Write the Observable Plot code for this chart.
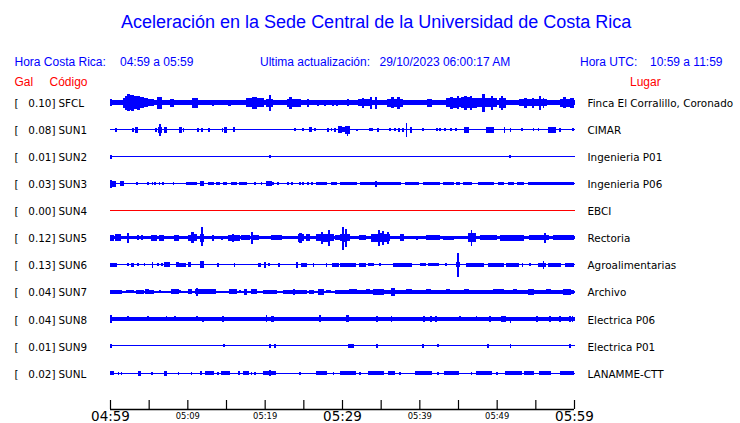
<!DOCTYPE html>
<html><head><meta charset="utf-8">
<script src="https://cdn.jsdelivr.net/npm/d3@7"></script>
<script src="https://cdn.jsdelivr.net/npm/@observablehq/plot@0.6"></script>
<style>
body{margin:0;background:#fff;}
#wrap{position:relative;width:740px;height:423px;overflow:hidden;font-family:"Liberation Sans",Arial,sans-serif;background:#fff;}
.t{position:absolute;white-space:pre;line-height:1;z-index:2;}
.b{color:#0000ff;font-size:12px;}
.r{color:#ff0000;font-size:12px;}
#title{color:#0000ff;font-size:18px;left:121px;top:13.3px;}
#chart{position:absolute;left:0;top:0;z-index:1;}
</style></head><body>
<div id="wrap">
<div id="chart"></div>
<div class="t" id="title">Aceleración en la Sede Central de la Universidad de Costa Rica</div>
<div class="t b" style="left:14.5px;top:55.5px">Hora Costa Rica:</div>
<div class="t b" style="left:120px;top:55.5px">04:59 a 05:59</div>
<div class="t b" style="left:260px;top:55.5px">Ultima actualización:</div>
<div class="t b" style="left:379.5px;top:55.5px">29/10/2023 06:00:17 AM</div>
<div class="t b" style="left:580px;top:55.5px">Hora UTC:</div>
<div class="t b" style="left:650px;top:55.5px">10:59 a 11:59</div>
<div class="t r" style="left:14.5px;top:75.6px">Gal</div>
<div class="t r" style="left:49.5px;top:75.6px">Código</div>
<div class="t r" style="left:630px;top:75.6px">Lugar</div>
</div>
<script>
const codes = ["SFCL","SUN1","SUN2","SUN3","SUN4","SUN5","SUN6","SUN7","SUN8","SUN9","SUNL"];
const gal = [0.10,0.08,0.01,0.03,0.00,0.12,0.13,0.04,0.04,0.01,0.02];
const lugares = ["Finca El Corralillo, Coronado","CIMAR","Ingenieria P01","Ingenieria P06","EBCI","Rectoria","Agroalimentarias","Archivo","Electrica P06","Electrica P01","LANAMME-CTT"];
const traceColors = ["#0000ff","#0000ff","#0000ff","#0000ff","#ff0000","#0000ff","#0000ff","#0000ff","#0000ff","#0000ff","#0000ff"];
// background noise half-amplitude per trace
const baseAmp = [2.5,0.5,0.5,0.6,0.5,1.7,0.5,0.8,1.7,0.5,0.5];
// time axis: minutes after 04:59
const tickMinutes = [0,5,10,15,20,25,30,35,40,45,50,55,60];
const labelMinutes = [0,10,20,30,40,50,60];
const tickLabels = ["04:59","05:09","05:19","05:29","05:39","05:49","05:59"];
const bigLabel = [true,false,false,true,false,false,true];

// bursts: [start min, end min, half-amplitude up, (down)]
const evSFCL = [[0,0.25,3.3],[1.7,2.0,5],[2.0,2.2,7],[2.2,2.5,8.5],[2.5,2.8,7.5],[2.8,3.1,8],[3.1,3.5,6.5],[3.5,3.8,7],[3.8,4.3,5.5],[4.3,4.8,4.5],[4.8,5.6,3.5],[6.1,6.7,6],[7.8,8.15,4],[10.7,11.25,5],[13.2,13.4,3],[15.3,15.6,3],[17.7,18.4,4.5],[18.4,18.9,6],[18.9,19.8,4.5],[20.3,20.95,4],[20.6,20.75,8],[23.0,23.2,4],[23.2,23.45,6],[23.45,24.6,4],[25.5,25.7,4],[26.85,26.95,3],[27.75,27.85,3],[28.75,28.85,3],[29.3,29.4,3],[30.7,30.9,3.5],[32.1,32.6,3.5],[32.6,32.8,5],[32.8,33.6,3.5],[33.7,33.85,6],[34.3,34.45,6],[35.9,36.4,4],[36.4,36.6,5.5],[36.6,37.2,4],[37.2,37.4,6],[37.4,37.8,4],[41.0,41.6,4],[43.5,44.0,4.5],[44.0,44.3,6],[44.3,44.9,5],[44.9,45.1,6.5],[45.1,45.4,4.5],[45.5,45.9,5.5],[45.9,46.1,7],[46.1,46.6,5.5],[46.6,46.8,7],[46.8,47.4,5],[47.4,48.2,4.5],[48.2,48.4,9],[48.4,49.2,4.5],[49.3,49.45,7],[49.45,50.0,4.5],[50.4,50.6,5],[50.6,50.8,7],[50.8,51.1,5],[53.0,53.6,3.5],[53.6,53.8,5],[53.8,54.6,3.5],[54.6,54.8,5],[54.8,55.5,3.5],[55.5,55.7,7],[55.7,56.5,3.5],[56.0,56.1,5],[58.2,58.7,4],[58.7,58.9,5.5],[58.9,59.5,4],[59.5,59.9,5]];
const evSUN1 = [[0.75,0.85,2],[2.95,3.05,2],[3.35,3.6,3],[5.9,6.0,2],[6.25,6.7,3],[6.45,6.55,6],[7.0,7.3,3],[8.95,9.2,3],[9.45,9.55,2],[11.35,11.45,2],[11.8,11.9,2],[12.8,12.9,2],[14.5,14.6,2],[14.85,15.1,3],[15.95,16.15,2.5],[23.85,23.95,1.5],[24.95,25.05,1.5],[25.85,26.1,2.5],[26.45,26.55,1.5],[28.15,28.25,2],[28.6,28.7,1.5],[29.05,29.15,2],[29.5,29.95,3.5],[29.95,30.4,2.5],[30.4,31.0,4],[30.65,30.75,3,6],[31.85,31.95,1],[33.55,33.65,1.5],[33.85,33.95,1.5],[34.65,34.75,2],[36.15,36.25,1.5],[36.8,36.9,1.5],[37.35,37.45,2],[37.85,37.95,2],[38.3,38.4,7],[38.8,39.0,3],[40.45,40.55,1.5],[42.2,42.3,1.5],[42.65,42.75,1.5],[43.25,43.35,1.5],[44.0,44.1,1.5],[44.7,44.8,1.5],[45.9,46.35,3],[48.7,49.55,3],[50.95,51.05,3],[51.75,51.85,2],[53.2,53.3,1.5],[54.7,54.8,1.5],[55.35,55.45,1.5],[56.7,57.55,3],[58.15,58.25,2],[59.85,59.95,1.5]];
const evSUN2 = [[0,0.25,2],[20.65,20.75,1.5],[51.7,51.8,1.5]];
const evSUN3 = [[0,0.65,3],[0.05,0.15,4],[1.3,1.7,2.5],[3.45,3.55,1.5],[4.85,4.95,1.5],[5.45,5.55,1.5],[5.75,5.85,1.5],[6.35,6.45,1.5],[6.85,6.95,1.5],[8.15,8.25,1.5],[9.9,11.2,1.7],[11.65,12.05,2.5],[12.7,13.35,1.7],[13.8,14.2,1.7],[14.65,15.1,1.7],[15.75,16.4,1.7],[16.8,17.7,1.7],[18.7,18.8,1.5],[19.55,19.65,1.5],[20.25,20.9,2.2],[21.05,21.15,1.5],[21.7,21.8,1.5],[23.0,23.1,1.5],[23.45,23.55,1.5],[24.5,24.6,1.5],[24.95,25.05,1.5],[25.6,25.7,1.5],[26.05,26.15,1.5],[26.7,28.0,1.7],[28.65,29.3,1.7],[29.75,31.45,1.7],[31.65,31.9,1.7],[32.35,34.05,1.7],[34.25,36.65,1.7],[34.35,34.45,3],[36.85,37.5,1.7],[38.15,39.85,1.7],[40.5,42.65,1.7],[43.1,44.4,1.7],[44.85,45.25,1.7],[45.7,46.75,1.7],[47.6,49.55,1.7],[50.2,50.85,1.7],[51.5,52.15,1.7],[52.65,53.45,1.7],[54.1,58.2,1.7],[58.4,59.9,1.7]];
const evSUN4 = [];
const evSUN5 = [[0,0.45,3],[0.65,1.3,3.5],[2.3,2.4,5],[3.6,3.7,2.5],[4.05,4.15,2.5],[5.4,6.05,3],[6.4,6.9,3],[8.4,8.85,3],[10.1,10.6,3],[10.6,10.75,5.5],[10.75,11.2,3.5],[11.65,12.05,4],[11.8,11.9,11,8],[13.3,13.4,3],[14.4,14.5,2],[15.3,15.8,3],[15.8,16.0,4],[16.0,16.8,3],[17.0,18.1,2.5],[18.35,18.45,6],[18.55,19.2,2.6],[20.9,22.2,2.5],[24.35,24.55,4],[24.55,24.7,5],[24.7,25.0,3.5],[25.45,25.85,3.5],[26.7,27.3,3.5],[27.3,27.5,6],[27.5,28.3,4],[28.3,28.4,8],[28.4,28.9,3.5],[29.1,29.75,2.6],[29.75,30.1,3.5],[30.1,30.25,11,12],[30.25,30.5,4],[30.5,30.6,9],[30.6,31.0,3.5],[32.3,33.0,2.6],[33.85,34.7,4],[34.7,34.9,8],[34.9,35.3,4.5],[35.3,35.4,7],[35.4,35.85,4],[35.85,35.95,6],[35.95,36.2,3.5],[37.5,37.9,3.5],[39.6,39.7,2],[40.95,42.65,2.3],[43.1,44.4,2],[46.35,46.7,4.5],[46.7,46.8,8],[46.8,47.2,4.5],[47.85,50.0,2.6],[50.45,53.45,2.8],[54.3,56.7,2.6],[56.2,56.3,5],[57.3,59.9,2.3]];
const evSUN6 = [[0,0.85,2],[2.3,2.4,1.5],[2.8,3.0,2],[3.6,3.7,1.5],[4.4,4.5,1.5],[5.45,5.55,3],[6.2,6.3,1.5],[6.65,6.75,1.5],[7.1,7.65,2.5],[8.6,8.85,2.5],[9.05,9.7,1.7],[10.1,10.35,2.5],[11.65,12.15,3.5],[13.95,14.05,2],[16.05,16.15,2],[19.2,19.4,2],[20.0,20.1,3],[20.55,20.65,1.5],[21.85,21.95,2],[24.1,24.2,3],[24.8,25.45,2.2],[26.25,26.35,2],[27.95,28.05,2],[28.8,29.5,2.2],[29.75,31.7,1.7],[32.3,33.0,1.7],[33.4,34.05,1.5],[34.85,34.95,1.5],[36.65,39.0,2.2],[40.1,40.75,1.5],[41.15,42.45,1.5],[43.4,43.5,1.5],[44.85,45.25,2.5],[44.95,45.1,12],[46.1,48.25,1.7],[48.9,50.85,1.7],[51.3,52.8,1.7],[53.3,53.4,2],[54.25,54.35,1.5],[55.4,56.25,2.2],[56.0,56.1,4],[56.7,58.2,1.7],[58.85,59.9,1.7]];
const evSUN7 = [[0,1.5,2],[2.15,3.0,1.5],[3.45,4.3,2],[4.55,4.95,2.5],[5.15,5.6,2],[6.4,6.5,1.5],[8.0,8.85,2.5],[9.0,9.1,1.5],[10.1,10.55,2.5],[11.1,13.6,2.6],[11.15,11.3,4],[15.5,16.4,2.6],[16.75,16.85,1.5],[17.45,17.7,3],[18.3,18.95,2.5],[19.8,21.55,2],[22.4,25.45,2.3],[23.7,23.85,3],[25.85,26.3,2],[26.95,27.6,3],[28.0,28.45,1.5],[29.1,31.0,2.3],[29.75,59.9,1.7],[31.0,31.9,2.5],[33.2,33.6,2.5],[34.05,35.35,2.8],[36.4,36.85,4],[38.35,39.0,2.5],[40.95,41.4,2.5],[43.55,43.95,2.5],[45.9,46.35,2.5],[49.55,50.85,2.5],[52.15,52.6,2.5],[54.1,54.75,3],[56.45,56.9,2.5],[58.6,59.5,3]];
const evSUN8 = [[0,0.2,4],[2.3,2.4,2.5],[4.9,5.0,2.5],[7.25,7.35,2.5],[8.35,8.45,2.5],[11.15,11.25,2.5],[12.0,12.1,1.7,3],[14.6,14.7,3],[20.2,20.3,3.5],[20.85,20.95,3],[21.05,21.15,3],[27.1,27.2,3.5],[30.6,30.8,3.5],[34.45,34.55,3],[36.35,36.45,3],[40.5,42.25,2.2],[40.55,40.65,3],[41.45,41.55,3],[42.15,42.25,3],[45.2,45.3,2.5],[47.35,47.45,2.5],[49.1,49.2,3],[50.65,51.1,3.2],[51.75,51.85,2,4],[55.15,55.25,3],[56.85,56.95,3],[58.15,58.25,3],[59.45,59.55,3],[59.75,59.85,3]];
const evSUN9 = [[0,0.25,2],[14.7,14.8,1.5],[20.65,20.8,2],[21.3,21.4,2],[30.9,31.0,2],[31.05,31.45,1.7],[34.45,34.55,2],[40.45,40.55,2],[42.4,42.5,1.5],[48.85,48.95,2],[51.75,51.85,2],[59.45,59.55,2]];
const evSUNL = [[0,0.45,2],[1.05,1.15,1.5],[1.45,1.55,1.5],[3.65,3.9,2.5],[5.35,5.45,1.5],[7.1,7.35,2.5],[8.8,8.9,1.5],[10.5,10.6,1.5],[11.65,11.85,2],[12.4,13.35,1.7],[13.95,14.05,1.5],[14.45,15.5,1.7],[16.6,16.8,1.7],[17.25,17.9,1.7],[18.25,18.35,1.5],[18.7,18.8,1.5],[19.8,21.35,2],[20.65,20.75,3],[24.5,24.6,1.5],[26.7,28.0,1.7],[28.85,28.95,1.5],[29.75,31.7,1.7],[32.3,32.4,1.5],[33.4,35.35,1.7],[36.0,36.85,1.7],[37.45,37.55,1.5],[39.45,41.6,1.7],[42.4,42.5,1.5],[43.3,45.05,1.7],[46.7,46.8,1.5],[47.4,49.35,1.7],[49.95,50.05,1.5],[51.1,53.25,1.7],[53.65,54.75,1.7],[55.6,56.9,1.7],[58.2,59.9,1.7]];
const events = [evSFCL,evSUN1,evSUN2,evSUN3,evSUN4,evSUN5,evSUN6,evSUN7,evSUN8,evSUN9,evSUNL];

// layout constants
const SPACING = 27.05, TOP = 17.5, H = 423, MT = 85, MB = 14;
const AXIS_Y = TOP - (H - MB - MT);
const off = i => -i * SPACING;

const rows = [];
codes.forEach((c, i) => {
  rows.push({i, t1: 0, t2: 60, up: baseAmp[i], down: baseAmp[i]});
  events[i].forEach(e => rows.push({i, t1: e[0], t2: e[1], up: e[2], down: e[3] ?? e[2]}));
});
const stations = codes.map((c, i) => ({i, code: c, gal: gal[i].toFixed(2) + "]", lugar: lugares[i]}));
const labels = labelMinutes.map((m, k) => ({m, label: tickLabels[k], big: bigLabel[k]}));

const chart = Plot.plot({
  width: 740, height: H,
  marginLeft: 110, marginRight: 166, marginTop: MT, marginBottom: MB,
  x: {domain: [0, 60], axis: null},
  y: {domain: [AXIS_Y, TOP], axis: null},
  style: {background: "transparent"},
  marks: [
    Plot.rect(rows, {x1: "t1", x2: "t2", y1: d => off(d.i) - d.down, y2: d => off(d.i) + d.up,
      fill: d => traceColors[d.i], insetLeft: -0.5, insetRight: -0.5, shapeRendering: "crispEdges"}),
    Plot.ruleY([AXIS_Y], {x1: 0, x2: 60, stroke: "black", strokeWidth: 1.3}),
    Plot.ruleX(tickMinutes, {x: d => d, y1: AXIS_Y, y2: AXIS_Y + 9, stroke: "black", strokeWidth: 1.2}),
    Plot.text(labels.filter(d => d.big), {x: "m", y: AXIS_Y, dy: 7, text: "label", fontSize: 13.5, fontFamily: "DejaVu Sans", lineAnchor: "middle", fill: "black"}),
    Plot.text(labels.filter(d => !d.big), {x: "m", y: AXIS_Y, dy: 6.3, text: "label", fontSize: 8.4, fontFamily: "DejaVu Sans", lineAnchor: "middle", fill: "black"}),
    Plot.text(stations, {x: () => 0, y: d => off(d.i), dy: 0.8, dx: -96, text: () => "[", textAnchor: "start", fontSize: 10.4, fontFamily: "DejaVu Sans", lineAnchor: "middle"}),
    Plot.text(stations, {x: () => 0, y: d => off(d.i), dy: 0.8, dx: -55, text: "gal", textAnchor: "end", fontSize: 10.4, fontFamily: "DejaVu Sans", lineAnchor: "middle"}),
    Plot.text(stations, {x: () => 0, y: d => off(d.i), dy: 0.8, dx: -52, text: "code", textAnchor: "start", fontSize: 10.4, fontFamily: "DejaVu Sans", lineAnchor: "middle"}),
    Plot.text(stations, {x: () => 60, y: d => off(d.i), dy: 0.8, dx: 13, text: "lugar", textAnchor: "start", fontSize: 10.4, fontFamily: "DejaVu Sans", lineAnchor: "middle"})
  ]
});
document.getElementById("chart").appendChild(chart);
</script>
</body></html>
